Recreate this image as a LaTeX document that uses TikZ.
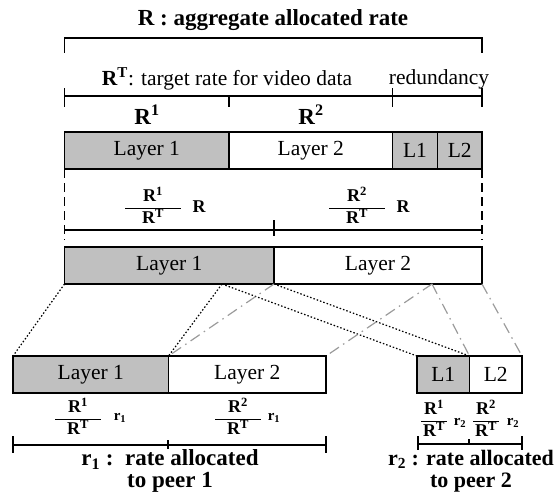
\documentclass[tikz,border=0pt]{standalone}
\usepackage{fontspec}
\setmainfont{Liberation Serif}
\usetikzlibrary{positioning}
\definecolor{layergray}{RGB}{192,192,192}
\definecolor{linkgray}{RGB}{155,155,155}
\setlength{\arrayrulewidth}{1.1pt}
\newcommand{\rfrac}[2]{\begin{tabular}{@{\hspace{#2}}c@{\hspace{#2}}}R\textsuperscript{#1}\\[1pt]\hline R\textsuperscript{T}\end{tabular}}

\begin{document}
\begin{tikzpicture}[x=1pt, y=-1pt,
        every node/.style={font=\fontsize{21.5}{24}\selectfont},
        layer/.style={rectangle, draw, line width=1.2pt, outer sep=0pt, inner sep=0pt, minimum height=37pt},
        full/.style={layer, fill=layergray},
        empty/.style={layer, fill=white},
        lab/.style={font=\fontsize{23}{22}\selectfont\bfseries, align=center},
        fraclab/.style={font=\fontsize{18}{18}\selectfont\bfseries, inner sep=0pt},
        smalllab/.style={font=\fontsize{15}{16}\selectfont\bfseries, inner sep=0pt},
        rule/.style={line width=1.2pt},
        link1/.style={line width=1.2pt, dash pattern=on 1.5pt off 2pt},
        link2/.style={line width=1.2pt, linkgray, dash pattern=on 11pt off 5pt on 1.5pt off 5pt},
        node distance=0pt
        ]
        \useasboundingbox (0,0) rectangle (559,495);

        % Labels on top
        \node (title) [lab] at (273,20) {R : aggregate allocated rate};
        \node (target) at (227,79) {\textbf{R\textsuperscript{T}}: target rate for video data};
        \node (redund) at (439,79) {redundancy};
        \node (rone) [lab] at (147,115) {R\textsuperscript{1}};
        \node (rtwo) [lab] at (311,115) {R\textsuperscript{2}};

        % Rate scales on top
        \draw [rule] (64.5,53) -- (64.5,38) -- (482,38) -- (482,53);
        \draw [rule] (64.5,96) -- (482,96);
        \foreach \x in {64.5, 392.5, 482}
            \draw [rule] (\x,88) -- (\x,107);
        \draw [rule] (229,96) -- (229,107);

        % Aggregate stream
        \node (top1) [full, minimum width=164.5pt, anchor=north west] at (64.5,132) {Layer 1};
        \node (top2) [empty, minimum width=163.5pt, right=of top1] {Layer 2};
        \node (top3) [full, minimum width=45pt, right=of top2] {L1};
        \node (top4) [full, minimum width=44.5pt, right=of top3] {L2};

        % Split of the aggregate rate
        \node (frac1) [fraclab] at (153,208) {\rfrac{1}{17pt}};
        \node (rate1) [fraclab] at (199,207) {R};
        \node (frac2) [fraclab] at (357,208) {\rfrac{2}{17pt}};
        \node (rate2) [fraclab] at (403,207) {R};
        \draw [rule, dash pattern=on 9pt off 5pt] (top1.south west) -- (64.5,240);
        \draw [rule, dash pattern=on 9pt off 5pt] (top4.south east) -- (482,240);
        \draw [rule] (64.5,230) -- (482,230);
        \draw [rule] (274,220) -- (274,236);

        % Stream with redundancy spread over the layers
        \node (mid1) [full, minimum width=209.5pt, anchor=north west] at (64.5,247) {Layer 1};
        \node (mid2) [empty, minimum width=208pt, right=of mid1] {Layer 2};
        \coordinate (cut1) at (222,284);
        \coordinate (cut2) at (432,284);

        % Peer streams
        \node (peerA1) [full, minimum width=155.5pt, anchor=north west] at (13,356) {Layer 1};
        \node (peerA2) [empty, minimum width=157.5pt, right=of peerA1] {Layer 2};
        \node (peerB1) [full, minimum width=52.5pt, anchor=north west] at (417,356) {L1};
        \node (peerB2) [empty, minimum width=52.5pt, right=of peerB1] {L2};

        % Links
        \draw [link1] (mid1.south west) -- (peerA1.north west);
        \draw [link1] (cut1) -- (peerA1.north east);
        \draw [link1] (cut1) -- (peerB1.north west);
        \draw [link1] (mid1.south east) -- (peerB1.north east);
        \draw [link2] (mid2.south west) -- (peerA2.north west);
        \draw [link2] (cut2) -- (peerA2.north east);
        \draw [link2] (cut2) -- (peerB2.north west);
        \draw [link2] (mid2.south east) -- (peerB2.north east);

        % Peer 1 rates
        \node (fracA1) [fraclab] at (78,419) {\rfrac{1}{12pt}};
        \node (rateA1) [smalllab] at (120,418) {r\textsubscript{1}};
        \node (fracA2) [fraclab] at (238,419) {\rfrac{2}{12pt}};
        \node (rateA2) [smalllab] at (274,418) {r\textsubscript{1}};
        \draw [rule] (13,436) -- (13,453);
        \draw [rule] (326,436) -- (326,453);
        \draw [rule] (13,445) -- (326,445);
        \draw [rule] (168,440) -- (168,449);
        \node (peerA) [lab] at (170,471) {r\textsubscript{1} :\ \ rate allocated\\to peer 1};

        % Peer 2 rates
        \node (fracB1) [fraclab] at (434,421) {\rfrac{1}{2pt}};
        \node (rateB1) [smalllab] at (460,423) {r\textsubscript{2}};
        \node (fracB2) [fraclab] at (486,421) {\rfrac{2}{2pt}};
        \node (rateB2) [smalllab] at (513,423) {r\textsubscript{2}};
        \draw [rule] (418,436) -- (418,450);
        \draw [rule] (522,436) -- (522,450);
        \draw [rule] (418,444) -- (522,444);
        \draw [rule] (469,439) -- (469,444);
        \node (peerB) [lab, font=\fontsize{22}{22}\selectfont\bfseries] at (471,471) {r\textsubscript{2} : rate allocated\\to peer 2};
\end{tikzpicture}
\end{document}
